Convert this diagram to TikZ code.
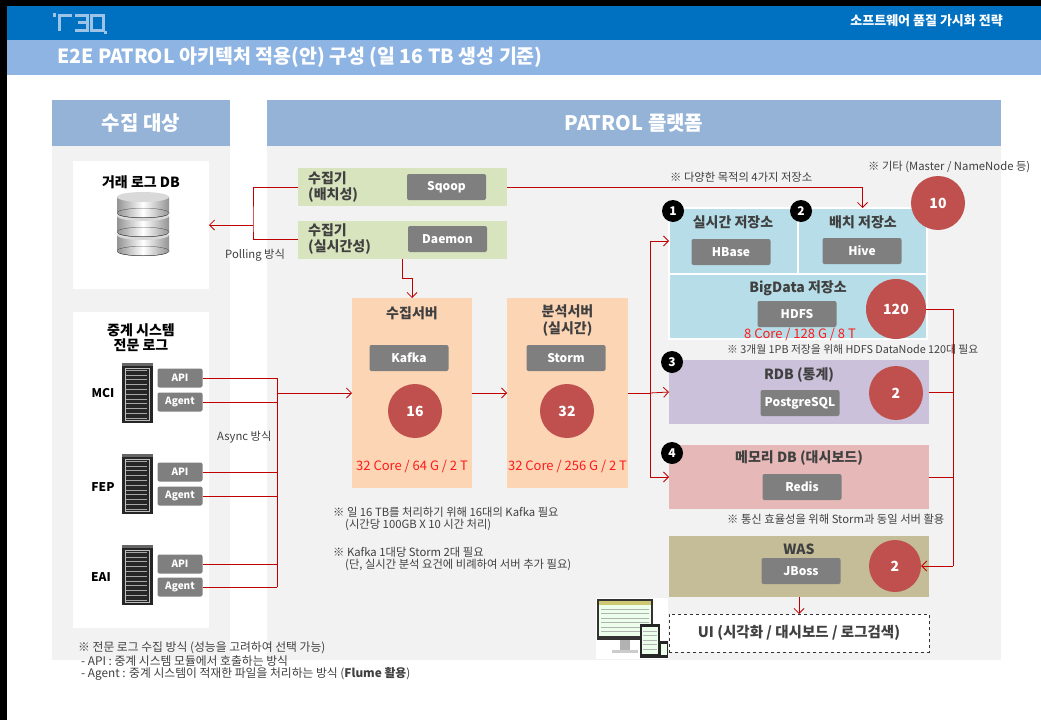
\documentclass[tikz,border=0pt]{standalone}
\usepackage{fontspec}
\setmainfont{Noto Sans CJK KR}
\usetikzlibrary{positioning,arrows.meta}

\definecolor{hdrBlue}{HTML}{0070C0}
\definecolor{titleBlue}{HTML}{8EB4E3}
\definecolor{panelBlue}{HTML}{95B3D7}
\definecolor{panelGray}{HTML}{F2F2F2}
\definecolor{logoBlue}{HTML}{9DC3E6}
\definecolor{collGreen}{HTML}{D7E4BD}
\definecolor{srvPeach}{HTML}{FCD5B5}
\definecolor{storeBlue}{HTML}{B7DEE8}
\definecolor{rdbPurple}{HTML}{CCC1DA}
\definecolor{memPink}{HTML}{E6B9B8}
\definecolor{wasKhaki}{HTML}{C4BD97}
\definecolor{boxGray}{HTML}{7F7F7F}
\definecolor{numRed}{HTML}{C0504D}
\definecolor{lineRed}{HTML}{C00000}
\definecolor{specRed}{HTML}{FF1A1A}
\definecolor{darkText}{HTML}{404040}

\begin{document}
\begin{tikzpicture}[%
    x=1pt, y=-1pt,
    panelHead/.style={%
        fill=panelBlue,
        text=white,
        inner sep=0pt,
        minimum width=178pt,
        minimum height=46pt,
        font=\fontsize{20}{24}\selectfont\bfseries
    },
    plainBox/.style={%
        inner sep=0pt,
        outer sep=0pt
    },
    boxTitle/.style={%
        inner sep=0pt,
        text=darkText,
        align=center,
        font=\fontsize{14}{16}\selectfont\bfseries
    },
    grayBox/.style={%
        fill=boxGray,
        rounded corners=2pt,
        text=white,
        inner sep=0pt,
        minimum width=79pt,
        minimum height=26pt,
        font=\fontsize{12}{14}\selectfont\bfseries
    },
    smallGray/.style={%
        fill=boxGray,
        rounded corners=2pt,
        text=white,
        inner sep=0pt,
        minimum width=45pt,
        minimum height=19pt,
        font=\fontsize{10}{12}\selectfont\bfseries
    },
    numCircle/.style={%
        circle,
        fill=numRed,
        text=white,
        inner sep=0pt,
        minimum size=54pt,
        font=\fontsize{14}{16}\selectfont\bfseries
    },
    badge/.style={%
        circle,
        fill=black,
        text=white,
        inner sep=0pt,
        minimum size=22pt,
        font=\fontsize{12}{14}\selectfont\bfseries
    },
    spec/.style={%
        inner sep=0pt,
        text=specRed,
        font=\fontsize{13}{15}\selectfont
    },
    note/.style={%
        anchor=west,
        inner sep=0pt,
        text=darkText,
        font=\fontsize{11.3}{13}\selectfont
    },
    link/.style={%
        draw=lineRed,
        line width=0.8pt
    },
    >={Straight Barb[length=5pt,width=10pt]}
]

\useasboundingbox (0,0) rectangle (1041,720);

% Page frame and header bars
\fill[white] (0,0) rectangle (1041,720);
\fill[black] (0,0) rectangle (1041,6);
\fill[black] (0,0) rectangle (7,720);
\fill[hdrBlue] (7,6) rectangle (1041,40);
\fill[titleBlue] (7,40) rectangle (1041,75);

% Logo
\begin{scope}[draw=logoBlue, line width=3pt]
    \fill[logoBlue] (53,13) rectangle (55.5,17);
    \draw (59,31) -- (59,15) -- (72,15);
    \draw (75,15) -- (87,15) -- (87,30) -- (75,30);
    \draw (78,22.5) -- (87,22.5);
    \draw (91,15) rectangle (103,30);
    \fill[logoBlue] (104,31) rectangle (106.5,33.5);
\end{scope}

\node[anchor=east, inner sep=0pt, text=white, font=\fontsize{13}{15}\selectfont\bfseries]
    (docTitle) at (1003,21) {소프트웨어 품질 가시화 전략};
\node[anchor=west, inner sep=0pt, text=white, font=\fontsize{19.5}{22}\selectfont\bfseries]
    (pageTitle) at (57,57) {E2E PATROL 아키텍처 적용(안) 구성 (일 16 TB 생성 기준)};

% Panels
\node[panelHead] (srcHead) at (141,123) {수집 대상};
\node[panelHead, minimum width=734pt] (platHead) at (634,123) {PATROL 플랫폼};
\fill[panelGray] (52,146) rectangle (230,660);
\fill[panelGray] (267,146) rectangle (1001,660);

% Source: transaction log DB
\node[plainBox, fill=white, minimum width=136pt, minimum height=128pt] (txDb) at (141,225) {};
\node[boxTitle, text=black] (txDbTitle) at (141,182) {거래 로그 DB};
\foreach \t/\b in {235/251,216/232,197/213} {
    \fill[left color=gray!85, right color=gray!85, middle color=white] (117,\t) rectangle (169,\b);
    \fill[left color=gray!85, right color=gray!85, middle color=white] (143,\b) ellipse (26 and 5);
    \fill[gray!60!black] (143,\b+1) ellipse (25 and 4);
    \fill[left color=gray!85, right color=gray!85, middle color=white] (143,\b) ellipse (26 and 4.5);
    \fill[gray!30] (143,\t) ellipse (26 and 5);
}

% Source: relay systems
\node[plainBox, fill=white, minimum width=136pt, minimum height=316pt] (relay) at (141,470) {};
\node[boxTitle, text=black, font=\fontsize{14}{15}\selectfont\bfseries] (relayTitle) at (141,338) {중계 시스템\\전문 로그};

\foreach \sy in {363,454,545} {
    \fill[black!85] (122,\sy) rectangle (153,\sy+60);
    \fill[black!60] (122,\sy) rectangle (153,\sy+3);
    \foreach \k in {0,...,10}
        \draw[gray!70, line width=0.6pt] (126,\sy+7+4.8*\k) -- (147,\sy+7+4.8*\k);
    \draw[gray!50, line width=0.6pt] (125,\sy+5) rectangle (149,\sy+57);
}

\node[boxTitle, text=black, font=\fontsize{12}{14}\selectfont\bfseries] (mciLbl) at (103,393) {MCI};
\node[boxTitle, text=black, font=\fontsize{12}{14}\selectfont\bfseries] (fepLbl) at (103,487) {FEP};
\node[boxTitle, text=black, font=\fontsize{12}{14}\selectfont\bfseries] (eaiLbl) at (101,577) {EAI};

\node[smallGray] (mciApi) at (180,378) {API};
\node[smallGray] (mciAgent) at (180,402) {Agent};
\node[smallGray] (fepApi) at (180,472) {API};
\node[smallGray] (fepAgent) at (180,496) {Agent};
\node[smallGray] (eaiApi) at (180,564) {API};
\node[smallGray] (eaiAgent) at (180,587) {Agent};

% Collectors
\node[plainBox, fill=collGreen, minimum width=209pt, minimum height=38pt] (collBatch) at (402.5,187) {};
\node[boxTitle, anchor=west, align=left] at (308,187) {수집기\\(배치성)};
\node[grayBox] (sqoop) at (446.5,187) {Sqoop};

\node[plainBox, fill=collGreen, minimum width=209pt, minimum height=38pt] (collRt) at (402.5,239.5) {};
\node[boxTitle, anchor=west, align=left] at (308,239.5) {수집기\\(실시간성)};
\node[grayBox] (daemon) at (447.5,239) {Daemon};

% Servers
\node[plainBox, fill=srvPeach, minimum width=120pt, minimum height=190pt] (kafkaSrv) at (412,393) {};
\node[boxTitle] at (412,313) {수집서버};
\node[grayBox] (kafka) at (409,358) {Kafka};
\node[numCircle] (kafkaNum) at (415,411) {16};
\node[spec] at (412,466) {32 Core / 64 G / 2 T};

\node[plainBox, fill=srvPeach, minimum width=121pt, minimum height=190pt] (stormSrv) at (567.5,393) {};
\node[boxTitle, font=\fontsize{14}{17}\selectfont\bfseries] at (567.5,321) {분석서버\\(실시간)};
\node[grayBox] (storm) at (566,358) {Storm};
\node[numCircle] (stormNum) at (567,411) {32};
\node[spec] at (567.5,466) {32 Core / 256 G / 2 T};

% Storages
\node[plainBox, fill=storeBlue, draw=white, line width=1.5pt, minimum width=129pt, minimum height=66pt] (rtStore) at (733.5,241) {};
\node[plainBox, fill=storeBlue, draw=white, line width=1.5pt, minimum width=129pt, minimum height=66pt] (batchStore) at (862.5,241) {};
\node[plainBox, fill=storeBlue, draw=white, line width=1.5pt, minimum width=258pt, minimum height=65pt] (bigStore) at (798,306.5) {};
\node[boxTitle] at (733,222) {실시간 저장소};
\node[grayBox] (hbase) at (731,252) {HBase};
\node[boxTitle] at (863,222) {배치 저장소};
\node[grayBox] (hive) at (862,251) {Hive};
\node[boxTitle] at (798,288) {BigData 저장소};
\node[grayBox] (hdfs) at (797,314) {HDFS};
\node[spec] at (800,334) {8 Core / 128 G / 8 T};
\node[numCircle, minimum size=60pt] (hdfsNum) at (896,309) {120};
\node[numCircle] (etcNum) at (938,203) {10};

\node[plainBox, fill=rdbPurple, minimum width=260pt, minimum height=64pt] (rdb) at (799,392) {};
\node[boxTitle] at (799,375) {RDB (통계)};
\node[grayBox] (postgres) at (800,403) {PostgreSQL};
\node[numCircle] (rdbNum) at (896,393) {2};

\node[plainBox, fill=memPink, minimum width=260pt, minimum height=64pt] (memDb) at (799,477) {};
\node[boxTitle] at (799,458) {메모리 DB (대시보드)};
\node[grayBox] (redis) at (802,487) {Redis};

\node[badge] (badge1) at (673,211) {1};
\node[badge] (badge2) at (801,211) {2};
\node[badge] (badge3) at (672,362) {3};
\node[badge] (badge4) at (672,453) {4};

% WAS and UI
\node[plainBox, fill=wasKhaki, minimum width=260pt, minimum height=61pt] (was) at (799,566.5) {};
\node[boxTitle] at (799,549) {WAS};
\node[grayBox] (jboss) at (801,571) {JBoss};
\node[numCircle, minimum size=52pt] (wasNum) at (895,566) {2};

\node[plainBox, fill=white, draw=black!80, dashed, line width=0.8pt, minimum width=260pt, minimum height=38pt,
      text=darkText, font=\fontsize{14.5}{16}\selectfont\bfseries] (ui) at (799,633) {UI (시각화 / 대시보드 / 로그검색)};

% Devices
\fill[white] (596,598) rectangle (668,659);
\fill[black!80] (597,599) rectangle (653,640);
\fill[green!8!white] (599,601) rectangle (651,636);
\fill[olive!45] (599,601) rectangle (651,605);
\foreach \k in {0,...,5}
    \draw[gray!60, line width=0.5pt] (601,609+4.5*\k) -- (649,609+4.5*\k);
\fill[gray!60] (620,640) rectangle (630,650);
\fill[gray!40] (612,650) rectangle (638,653);
\fill[black!85] (640,624) rectangle (660,658);
\fill[green!8!white] (642,627) rectangle (658,654);
\foreach \k in {0,...,4}
    \draw[gray!60, line width=0.5pt] (643,631+4.5*\k) -- (657,631+4.5*\k);
\fill[black!85] (660,641) rectangle (668,658);
\fill[green!8!white] (661,644) rectangle (667,655);

% Notes
\node[note] at (217,437) {Async 방식};
\node[note] at (225,255) {Polling 방식};
\node[note] at (670,177) {※ 다양한 목적의 4가지 저장소};
\node[note] at (868,167) {※ 기타 (Master / NameNode 등)};
\node[note, font=\fontsize{10.8}{12}\selectfont] at (727,349) {※ 3개월 1PB 저장을 위해 HDFS DataNode 120대 필요};
\node[note] at (727,519) {※ 통신 효율성을 위해 Storm과 동일 서버 활용};
\node[note] at (333,512) {※ 일 16 TB를 처리하기 위해 16대의 Kafka 필요};
\node[note] at (345,525) {(시간당 100GB X 10 시간 처리)};
\node[note] at (333,552) {※ Kafka 1대당 Storm 2대 필요};
\node[note] at (345,565) {(단, 실시간 분석 요건에 비례하여 서버 추가 필요)};
\node[note, font=\fontsize{11.8}{13}\selectfont] at (78,648) {※ 전문 로그 수집 방식 (성능을 고려하여 선택 가능)};
\node[note, font=\fontsize{11.8}{13}\selectfont] at (81,661) {- API : 중계 시스템 모듈에서 호출하는 방식};
\node[note, font=\fontsize{11.8}{13}\selectfont] at (81,674) {- Agent : 중계 시스템이 적재한 파일을 처리하는 방식 (\textbf{Flume 활용})};

% Arrows
\coordinate (pollJoin) at (253,225);
\coordinate (asyncBus) at (277,393);
\coordinate (storeBus) at (650,393);
\coordinate (outBus) at (953,566);

\draw[link] (collBatch.west) -| (pollJoin) |- (collRt.west);
\draw[link, ->] (pollJoin) -- (txDb.east);

\draw[link] (mciApi.east) -- (mciApi.east -| asyncBus);
\draw[link] (mciAgent.east) -- (mciAgent.east -| asyncBus);
\draw[link] (fepApi.east) -- (fepApi.east -| asyncBus);
\draw[link] (fepAgent.east) -- (fepAgent.east -| asyncBus);
\draw[link] (eaiApi.east) -- (eaiApi.east -| asyncBus);
\draw[link] (eaiAgent.east) -- (eaiAgent.east -| asyncBus);
\draw[link] (mciApi.east -| asyncBus) -- (eaiAgent.east -| asyncBus);
\draw[link, ->] (asyncBus) -- (kafkaSrv.west);

\draw[link, ->] (collRt.south) -- ++(0,20) -| (kafkaSrv.north);
\draw[link, ->] (kafkaSrv.east) -- (stormSrv.west);
\draw[link, ->] (collBatch.east) -| (batchStore.north);

\draw[link] (stormSrv.east) -- (storeBus);
\draw[link, ->] (storeBus) |- (rtStore.west);
\draw[link, ->] (storeBus) -- (rdb.west);
\draw[link, ->] (storeBus) |- (memDb.west);

\draw[link] (hdfsNum.east) -| (outBus);
\draw[link] (rdb.east) -- (rdb.east -| outBus);
\draw[link] (memDb.east) -- (memDb.east -| outBus);
\draw[link, ->] (outBus) -- (wasNum.east);
\draw[link, ->] (was.south) -- (ui.north);

\end{tikzpicture}
\end{document}
